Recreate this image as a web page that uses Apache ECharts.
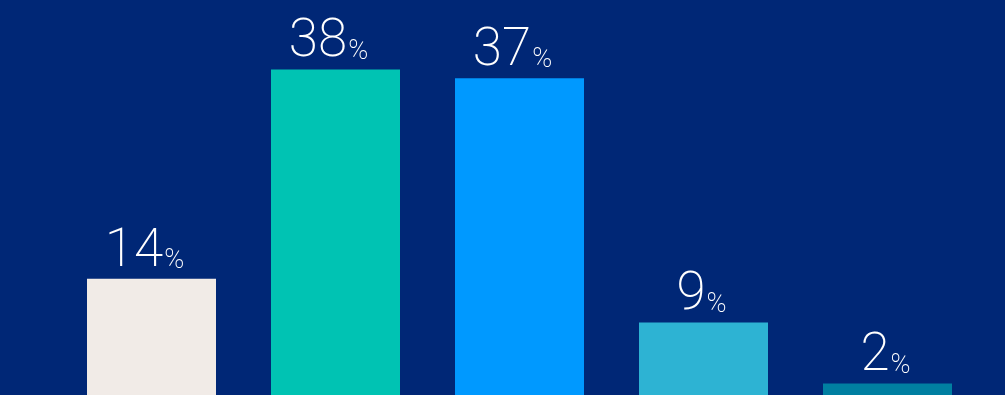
<!DOCTYPE html>
<html>
<head>
<meta charset="utf-8">
<script src="https://cdn.jsdelivr.net/npm/echarts@6/dist/echarts.min.js"></script>
<style>
html,body{margin:0;padding:0;background:#002776;}
#chart{width:1005px;height:395px;}
</style>
</head>
<body>
<div id="chart"></div>
<script>
const categories = ['A', 'B', 'C', 'D', 'E'];
const values = [14, 38, 37, 9, 2];
const barColors = ['#F1EBE7', '#00C3B3', '#0099FF', '#2DB3D3', '#007FA1'];

const chart = echarts.init(document.getElementById('chart'));
chart.setOption({
  backgroundColor: '#002776',
  animation: false,
  grid: { left: 59.5, right: 25.5, top: 52, bottom: 0 },
  xAxis: {
    type: 'category',
    data: categories,
    axisLine: { show: false },
    axisTick: { show: false },
    axisLabel: { show: false }
  },
  yAxis: {
    type: 'value',
    min: 0.69,
    max: 40,
    show: false,
    splitLine: { show: false }
  },
  series: [{
    type: 'bar',
    barWidth: 129,
    data: values.map((v, i) => ({
      value: v,
      itemStyle: { color: barColors[i] },
      label: { offset: [String(v).length > 1 ? -7 : -2, 0] }
    })),
    label: {
      show: true,
      position: 'top',
      distance: 0,
      formatter: p => '{n|' + p.value + '}{p|%}',
      rich: {
        n: { fontFamily: 'Roboto', fontWeight: 200, fontSize: 53, color: '#ffffff', lineHeight: 52, verticalAlign: 'bottom' },
        p: { fontFamily: 'Roboto', fontWeight: 200, fontSize: 27, color: '#ffffff', lineHeight: 52, verticalAlign: 'bottom', padding: [0, 0, 4, 1] }
      }
    }
  }]
});
</script>
</body>
</html>
